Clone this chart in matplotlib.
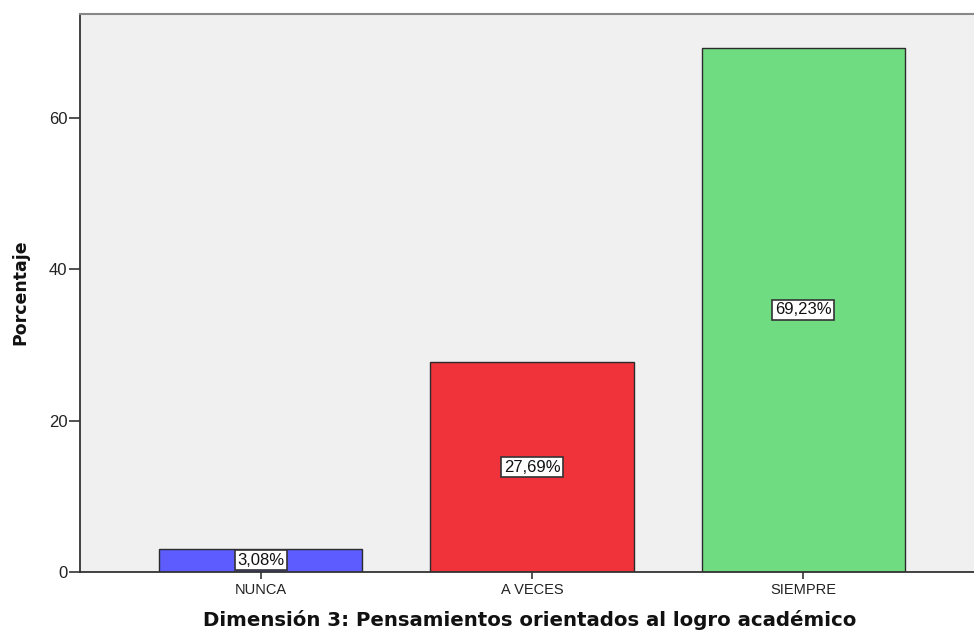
import matplotlib
matplotlib.use("Agg")
import matplotlib.pyplot as plt

categories = ["NUNCA", "A VECES", "SIEMPRE"]
values = [3.08, 27.69, 69.23]
labels = ["3,08%", "27,69%", "69,23%"]
colors = ["#5C5CFF", "#F0323A", "#70DC82"]
yticks = [0, 20, 40, 60]

plt.rcParams['font.family'] = ['Liberation Sans', 'DejaVu Sans']

fig = plt.figure(figsize=(9.74, 6.32), dpi=100)
ax = fig.add_axes([80/974, 1 - 572/632, 1 - 80/974 + 0.001, (572 - 14)/632])
ax.set_facecolor("#F0F0F0")

x = list(range(len(categories)))
ax.bar(x, values, width=0.75, color=colors, edgecolor="#2B2B2B", linewidth=1.0, zorder=2)

for xi, v, lab in zip(x, values, labels):
    ax.text(xi, v / 2, lab, ha="center", va="center", fontsize=12, color="#111111", zorder=3,
            bbox=dict(boxstyle="square,pad=0.15", facecolor="white", edgecolor="#333333", linewidth=1.2))

ax.set_xlim(-0.666, 2.633)
ax.set_ylim(0, 73.7)
ax.set_yticks(yticks)
ax.set_yticklabels([str(t) for t in yticks], fontsize=12, color="#222222")
ax.set_xticks(x)
ax.set_xticklabels(categories, fontsize=10.5, color="#222222")
ax.tick_params(axis="y", direction="out", length=8, width=1.2, color="#333333", pad=1)
ax.tick_params(axis="x", direction="out", length=5, width=1.2, color="#333333", pad=3)

ax.spines["left"].set_color("#333333")
ax.spines["left"].set_linewidth(1.3)
ax.spines["bottom"].set_color("#333333")
ax.spines["bottom"].set_linewidth(1.3)
ax.spines["top"].set_color("#888888")
ax.spines["top"].set_linewidth(1.5)
ax.spines["right"].set_visible(False)

fig.text(20/974, 1 - 292/632, "Porcentaje", rotation=90, ha="center", va="center",
         fontsize=12.5, fontweight="bold", family="DejaVu Sans", color="#111111")
fig.text(530/974, 1 - 620/632, "Dimensión 3: Pensamientos orientados al logro académico",
         ha="center", va="center", fontsize=14.2, fontweight="bold", family="DejaVu Sans",
         color="#111111")

fig.savefig("out.png", dpi=100)
